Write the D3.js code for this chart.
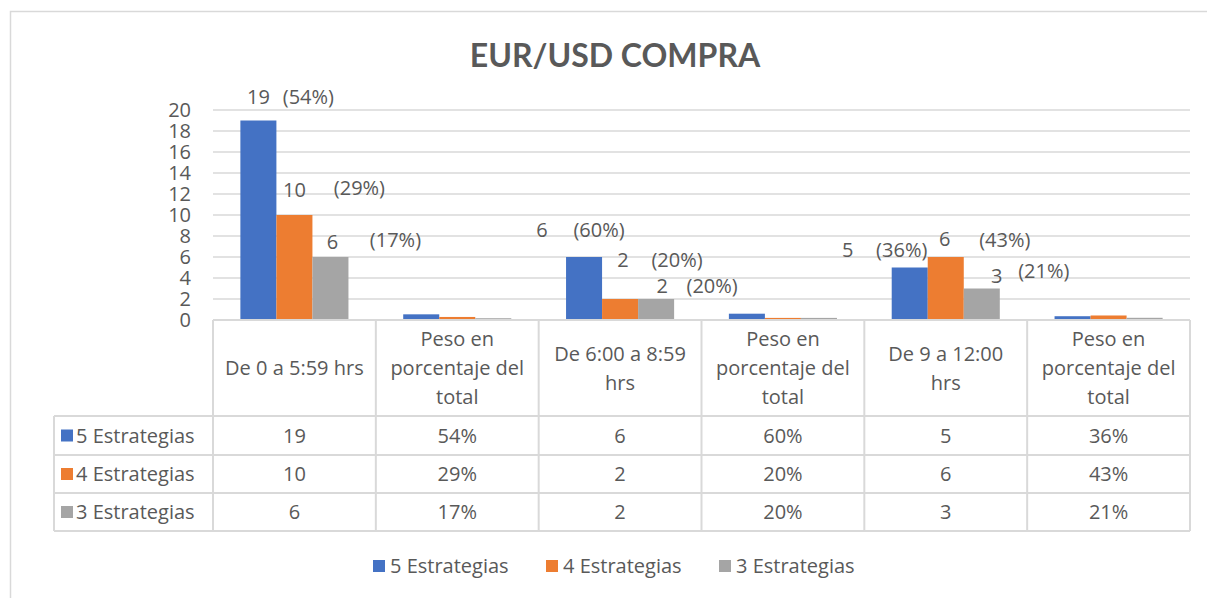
<!DOCTYPE html>
<html>
<head>
<meta charset="utf-8">
<script src="https://cdn.jsdelivr.net/npm/d3@7"></script>
<style>
  body{margin:0;background:#fff;}
  svg text{font-family:"Open Sans",Lato,sans-serif;fill:#595959;font-size:20px;}
</style>
</head>
<body>
<div id="chart"></div>
<script>
// data
var categories = ["De 0 a 5:59 hrs","Peso en porcentaje del total","De 6:00 a 8:59 hrs","Peso en porcentaje del total","De 9 a 12:00 hrs","Peso en porcentaje del total"];
var headerLines = [["De 0 a 5:59 hrs"],["Peso en","porcentaje del","total"],["De 6:00 a 8:59","hrs"],["Peso en","porcentaje del","total"],["De 9 a 12:00","hrs"],["Peso en","porcentaje del","total"]];
var seriesNames = ["5 Estrategias","4 Estrategias","3 Estrategias"];
var colors = ["#4472c4","#ed7d31","#a5a5a5"];
var est5 = [19,0.54,6,0.60,5,0.36];
var est4 = [10,0.29,2,0.20,6,0.43];
var est3 = [6,0.17,2,0.20,3,0.21];
var yTicks = [0,2,4,6,8,10,12,14,16,18,20];
var isPct = [false,true,false,true,false,true];

// manual nudges of the data labels (like dragged excel labels): [valueDx, valueDy, pctDx, pctDy]
var labelNudge = {
  "0-0":[0,-24,50,-24], "0-1":[0,-25,65,-27], "0-2":[2,-15,65,-17],
  "2-0":[-42,-27,15,-27], "2-1":[3,-39,57,-39], "2-2":[6,-13,56,-13],
  "4-0":[-62,-18,-8,-18], "4-1":[-1,-18,59,-17], "4-2":[15,-13,62,-18]
};

var W=1207,H=598;
var svg = d3.select("#chart").append("svg").attr("width",W).attr("height",H);

// chart border
svg.append("rect").attr("x",10.5).attr("y",11.5).attr("width",1300).attr("height",700)
  .attr("fill","none").attr("stroke","#d9d9d9").attr("stroke-width",1.5);

svg.append("text").attr("x",615).attr("y",67).attr("text-anchor","middle")
  .style("font-family","Lato,sans-serif")
  .style("font-size","32px").style("font-weight","bold").text("EUR/USD COMPRA");

var plotL=213, plotR=1190;
var y = d3.scaleLinear().domain([0,20]).range([320,110]);
var x0 = d3.scaleBand().domain(d3.range(categories.length)).range([plotL,plotR]);
var x1 = d3.scaleBand().domain(d3.range(3)).range([0,x0.bandwidth()]).paddingOuter(0.76);

// gridlines
svg.selectAll(".grid").data(yTicks.slice(1)).enter().append("line")
  .attr("class","grid").attr("x1",plotL).attr("x2",plotR)
  .attr("y1",function(d){return y(d);}).attr("y2",function(d){return y(d);})
  .attr("stroke","#d9d9d9").attr("stroke-width",1.5);

svg.selectAll(".ytick").data(yTicks).enter().append("text")
  .attr("class","ytick").attr("x",191).attr("y",function(d){return y(d);})
  .attr("dy","0.35em").attr("text-anchor","end").text(String);

// bars
var seriesVals=[est5,est4,est3];
seriesVals.forEach(function(vals,s){
  svg.selectAll(".bar"+s).data(vals).enter().append("rect")
    .attr("class","bar"+s)
    .attr("x",function(d,i){return x0(i)+x1(s);})
    .attr("width",x1.bandwidth())
    .attr("y",function(d){return y(d);})
    .attr("height",function(d){return y(0)-y(d);})
    .attr("fill",colors[s]);
});

// data labels
var fmtPct = function(v){return Math.round(v*100)+"%";};
seriesVals.forEach(function(vals,s){
  vals.forEach(function(v,i){
    var n = labelNudge[i+"-"+s];
    if(!n) return;
    var cx = x0(i)+x1(s)+x1.bandwidth()/2, top=y(v);
    svg.append("text").attr("x",cx+n[0]).attr("y",top+n[1]).attr("dy","0.35em")
      .attr("text-anchor","middle").text(v);
    svg.append("text").attr("x",cx+n[2]).attr("y",top+n[3]).attr("dy","0.35em")
      .attr("text-anchor","middle").text("("+fmtPct(vals[i+1])+")");
  });
});

// data table
var tblL=54, rowsY=[320,416,455,493,531];
var g = svg.append("g").attr("class","table");
var lineC="#d9d9d9";
// horizontal lines
rowsY.forEach(function(ry,k){
  g.append("line").attr("x1",k===0?plotL:tblL).attr("x2",plotR).attr("y1",ry).attr("y2",ry)
    .attr("stroke",lineC).attr("stroke-width",2);
});
// vertical lines
var bounds = d3.range(categories.length).map(function(i){return x0(i);}).concat([plotR]);
bounds.forEach(function(bx){
  g.append("line").attr("x1",bx).attr("x2",bx).attr("y1",320).attr("y2",531)
    .attr("stroke",lineC).attr("stroke-width",2);
});
g.append("line").attr("x1",tblL).attr("x2",tblL).attr("y1",416).attr("y2",531)
  .attr("stroke",lineC).attr("stroke-width",2);

// header text
headerLines.forEach(function(lines,i){
  var cx = x0(i)+x0.bandwidth()/2;
  var mid = (320+416)/2, lh=29;
  lines.forEach(function(t,k){
    g.append("text").attr("x",cx).attr("y",mid+(k-(lines.length-1)/2)*lh)
      .attr("dy","0.35em").attr("text-anchor","middle").text(t);
  });
});

// rows
seriesVals.forEach(function(vals,s){
  var cy=(rowsY[s+1]+rowsY[s+2])/2;
  g.append("rect").attr("x",61).attr("y",cy-6).attr("width",12).attr("height",12).attr("fill",colors[s]);
  g.append("text").attr("x",76).attr("y",cy).attr("dy","0.35em").text(seriesNames[s]);
  vals.forEach(function(v,i){
    g.append("text").attr("x",x0(i)+x0.bandwidth()/2).attr("y",cy).attr("dy","0.35em")
      .attr("text-anchor","middle")
      .text(isPct[i]?fmtPct(v):v);
  });
});

// legend
var legX=[373,546,719];
seriesNames.forEach(function(nm,s){
  svg.append("rect").attr("x",legX[s]).attr("y",560).attr("width",12).attr("height",12).attr("fill",colors[s]);
  svg.append("text").attr("x",legX[s]+17).attr("y",566).attr("dy","0.35em").text(nm);
});
</script>
</body>
</html>
